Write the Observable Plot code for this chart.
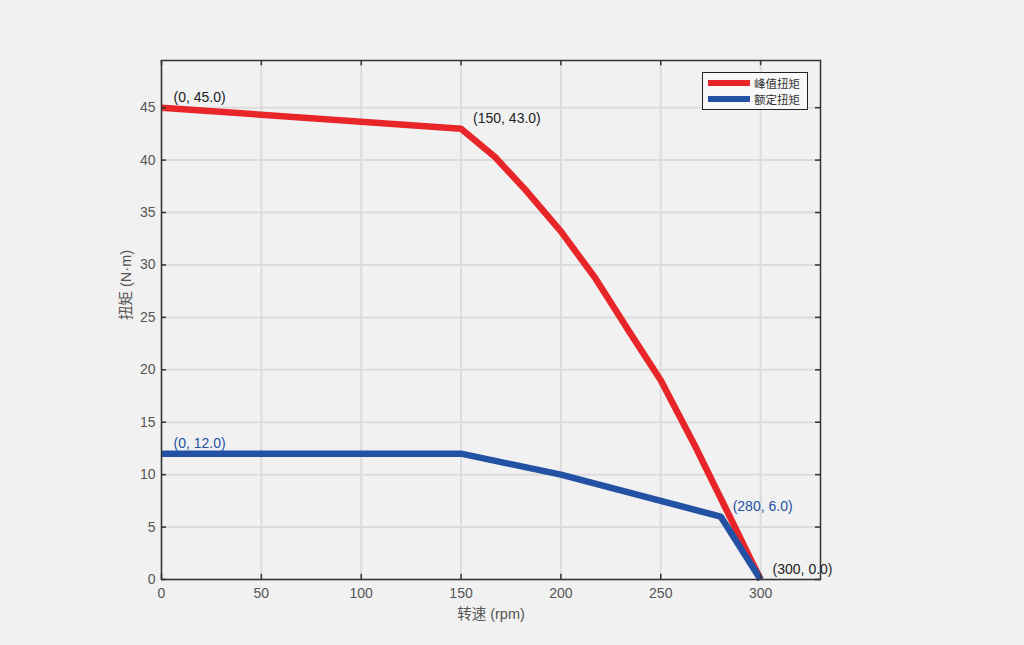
<!DOCTYPE html>
<html>
<head>
<meta charset="utf-8">
<script src="https://cdn.jsdelivr.net/npm/d3@7"></script>
<script src="https://cdn.jsdelivr.net/npm/@observablehq/plot@0.6"></script>
<style>
  html, body { margin: 0; padding: 0; background: #f1f1f1; }
  #wrap { position: relative; width: 1024px; height: 645px; }
  #legend {
    position: absolute; left: 702px; top: 72px; width: 104px; height: 36px;
    border: 1px solid #222; background: #f8f8f8;
    font-family: "Noto Sans CJK SC", sans-serif; font-size: 11.5px; color: #333;
  }
  .item { position: absolute; left: 5px; display: flex; align-items: center; }
  .sw { width: 42px; height: 6px; margin-right: 4px; }
</style>
</head>
<body>
<div id="wrap">
  <div id="chart"></div>
  <div id="legend">
    <div class="item" style="top:2px"><div class="sw" style="background:#e8262a"></div><span>峰值扭矩</span></div>
    <div class="item" style="top:18px"><div class="sw" style="background:#2352a5"></div><span>额定扭矩</span></div>
  </div>
</div>
<script>
const speedPeak  = [0, 150, 167, 183, 200, 217, 233, 250, 267, 283, 300];
const torquePeak = [45, 43, 40.3, 37, 33.2, 28.8, 24, 19, 12.8, 6.6, 0];
const speedRated  = [0, 150, 200, 280, 300];
const torqueRated = [12, 12, 10, 6, 0];
const xTicks = [0, 50, 100, 150, 200, 250, 300];
const yTicks = [0, 5, 10, 15, 20, 25, 30, 35, 40, 45];
const annotations = [
  {x: 0, y: 45, label: "(0, 45.0)", color: "#222"},
  {x: 150, y: 43, label: "(150, 43.0)", color: "#222"},
  {x: 0, y: 12, label: "(0, 12.0)", color: "#2352a5"},
  {x: 280, y: 6, label: "(280, 6.0)", color: "#2352a5"},
  {x: 300, y: 0, label: "(300, 0.0)", color: "#222"}
];
const xDomain = [0, 330];
const yDomain = [0, 49.5];

const peak = speedPeak.map((s, i) => ({s, t: torquePeak[i]}));
const rated = speedRated.map((s, i) => ({s, t: torqueRated[i]}));

const latin = "'Liberation Sans', 'Noto Sans CJK SC', sans-serif";

const chart = Plot.plot({
  width: 1024,
  height: 645,
  marginLeft: 161,
  marginRight: 204,
  marginTop: 60,
  marginBottom: 66,
  style: {background: "#f1f1f1", fontFamily: latin},
  x: {domain: xDomain, ticks: xTicks},
  y: {domain: yDomain, ticks: yTicks},
  marks: [
    Plot.gridX(xTicks, {stroke: "#dcdcdc", strokeOpacity: 1, strokeWidth: 2}),
    Plot.gridY(yTicks, {stroke: "#dcdcdc", strokeOpacity: 1, strokeWidth: 2}),
    Plot.axisX(xTicks, {tickSize: 0, tickPadding: 9, fontSize: 14, color: "#555", label: null}),
    Plot.axisY(yTicks, {tickSize: 0, tickPadding: 6, fontSize: 14, color: "#555", label: null}),
    Plot.line(peak, {x: "s", y: "t", stroke: "#e8262a", strokeWidth: 6.5, strokeLinejoin: "miter", strokeLinecap: "butt"}),
    Plot.line(rated, {x: "s", y: "t", stroke: "#2352a5", strokeWidth: 6.5, strokeLinejoin: "miter", strokeLinecap: "butt"}),
    Plot.text(annotations, {x: "x", y: "y", text: "label", fill: "color", dx: 12, dy: -10, textAnchor: "start", fontSize: 14}),
    // inward ticks
    Plot.ruleX(xTicks, {y1: 0, y2: 0.5, stroke: "#333", strokeWidth: 1.5}),
    Plot.ruleX(xTicks, {y1: 49.5, y2: 49, stroke: "#333", strokeWidth: 1.5}),
    Plot.ruleY(yTicks, {x1: 0, x2: 2.5, stroke: "#333", strokeWidth: 1.5}),
    Plot.ruleY(yTicks, {x1: 330, x2: 327.5, stroke: "#333", strokeWidth: 1.5}),
    Plot.frame({stroke: "#333", strokeWidth: 1.5}),
    Plot.text(["转速 (rpm)"], {frameAnchor: "bottom", dy: 39, fontSize: 14.5, fill: "#555", fontFamily: latin}),
    Plot.text(["扭矩 (N·m)"], {frameAnchor: "left", dx: -35, rotate: -90, fontSize: 14.5, fill: "#555", fontFamily: latin})
  ]
});
document.getElementById("chart").appendChild(chart);
</script>
</body>
</html>
